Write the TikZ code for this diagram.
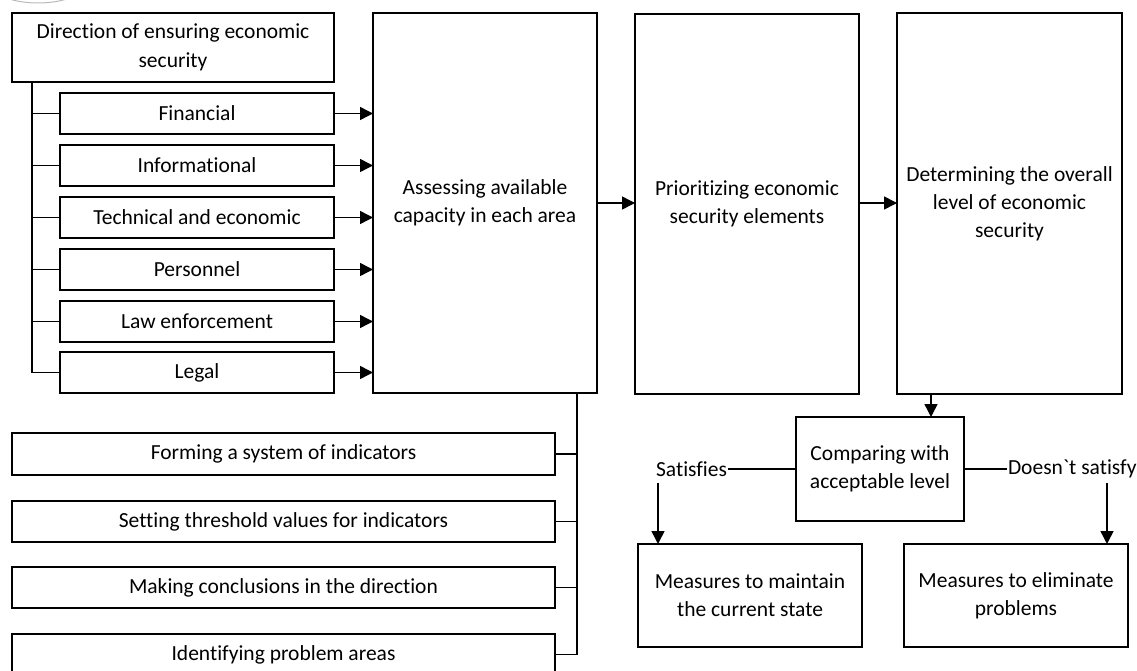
\documentclass[tikz,border=0pt]{standalone}
\usepackage{fontspec}
\setmainfont{Carlito}[Ligatures={TeXOff,NoCommon}]
\usetikzlibrary{arrows.meta}
\begin{document}
\begin{tikzpicture}[x=1pt,y=-1pt,
  every node/.style={font=\fontsize{21.5}{28}\selectfont},
  bx/.style={draw, line width=1.5pt, inner sep=0pt, outer sep=0pt, align=center},
  ln/.style={line width=1.5pt},
  arr/.style={line width=1.5pt, -{Triangle[length=13pt,width=13pt]}},
  lbl/.style={inner sep=1pt, outer sep=0pt}]
\useasboundingbox (0,0) rectangle (1137,671);
\draw[gray!55, line width=1pt] (38,-17) ellipse [x radius=48, y radius=20];

% left column
\node[bx, minimum width=322, minimum height=69] (dir) at (173,47.5) {Direction of ensuring economic\\[1pt]security};
\node[bx, minimum width=274, minimum height=41] (fin) at (197,113.5) {Financial};
\node[bx, minimum width=274, minimum height=41] (inf) at (197,165.5) {Informational};
\node[bx, minimum width=274, minimum height=41] (tec) at (197,217.5) {Technical and economic};
\node[bx, minimum width=274, minimum height=41] (per) at (197,269.5) {Personnel};
\node[bx, minimum width=274, minimum height=41] (law) at (197,321.5) {Law enforcement};
\node[bx, minimum width=274, minimum height=41] (leg) at (197,372.5) {Legal};

% tall boxes
\node[bx, minimum width=224, minimum height=380] (ass) at (485,203) {Assessing available\\capacity in each area};
\node[bx, minimum width=224, minimum height=380] (pri) at (747,204) {Prioritizing economic\\security elements};
\node[bx, minimum width=225, minimum height=381] (det) at (1009.5,203.5) {Determining the overall\\level of economic\\security};

% bottom left boxes
\node[bx, minimum width=543, minimum height=42] (frm) at (283.5,454) {Forming a system of indicators};
\node[bx, minimum width=543, minimum height=41] (set) at (283.5,521.5) {Setting threshold values for indicators};
\node[bx, minimum width=543, minimum height=41] (mak) at (283.5,587.5) {Making conclusions in the direction};
\node[bx, minimum width=543, minimum height=41] (idn) at (283.5,654.5) {Identifying problem areas};

% comparison part
\node[bx, minimum width=168, minimum height=104] (cmp) at (880,469) {Comparing with\\acceptable level};
\node[bx, minimum width=224, minimum height=103] (mm) at (750,595.5) {Measures to maintain\\the current state};
\node[bx, minimum width=224, minimum height=103] (me) at (1016,595.5) {Measures to eliminate\\problems};
\node[lbl, anchor=east] (sat) at (728,469) {Satisfies};
\node[lbl, anchor=west] (dns) at (1007,469) {Doesn`t satisfy};

% trunk of left column
\coordinate (tk) at (32,82);
\draw[ln] (tk) |- (leg.west);
\foreach \n in {fin,inf,tec,per,law} {\draw[ln] (\n.west) -- (\n.west -| tk);}
\foreach \n in {fin,inf,tec,per,law,leg} {\draw[arr] (\n.east) -- (\n.east -| ass.west);}

% main arrows
\draw[arr] (ass.east |- 0,203) -- (pri.west |- 0,203);
\draw[arr] (pri.east |- 0,203) -- (det.west |- 0,203);

% bottom trunk
\coordinate (vb) at (577,393);
\draw[ln] (vb) |- (idn.east);
\foreach \n in {frm,set,mak} {\draw[ln] (\n.east) -- (\n.east -| vb);}

% comparison
\coordinate (da) at (931,394);
\draw[arr] (da) -- (da |- cmp.north);
\draw[ln] (cmp.west) -- (sat.east);
\draw[ln] (cmp.east) -- (dns.west);
\coordinate (sa) at (658,483);
\draw[arr] (sa) -- (sa |- mm.north);
\coordinate (na) at (1107,483);
\draw[arr] (na) -- (na |- me.north);
\end{tikzpicture}
\end{document}
